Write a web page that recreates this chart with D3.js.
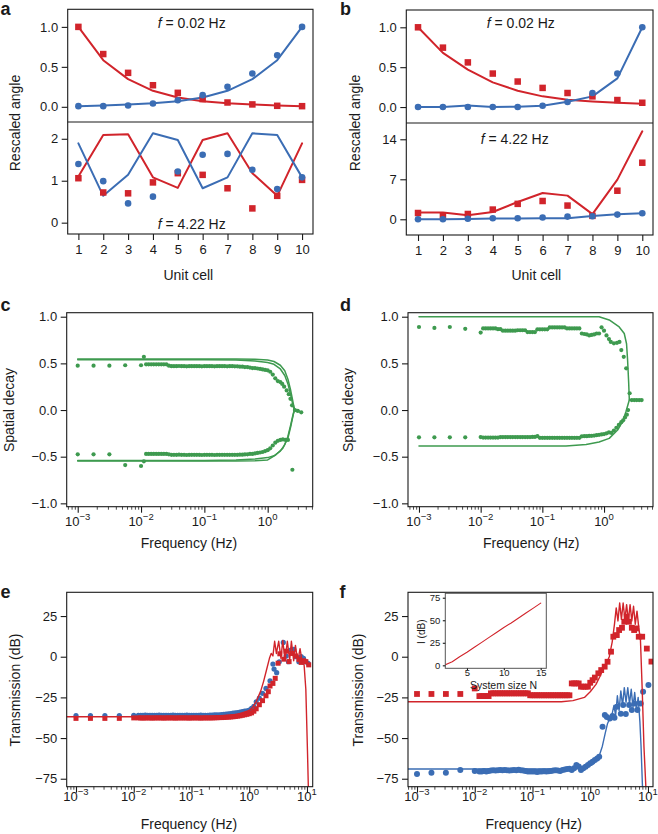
<!DOCTYPE html>
<html><head><meta charset="utf-8">
<script src="https://cdn.jsdelivr.net/npm/d3@7"></script>
<style>
body{margin:0;background:#fff}
text{font-family:"Liberation Sans",Arial,Helvetica,sans-serif;fill:#1a1a1a}
</style>
</head><body><svg id="fig" width="658" height="834"></svg>
<script>
// ---------------- DATA ----------------
const cells = [1,2,3,4,5,6,7,8,9,10];
// panel a, f = 0.02 Hz
const aLowRedPts  = [1.0,0.66,0.425,0.27,0.175,0.096,0.054,0.03,0.0125,0.008];
const aLowRedLine = [1.0,0.583,0.346,0.2,0.117,0.07,0.046,0.03,0.017,0.008];
const aLowBluePts = [0.008,0.008,0.017,0.042,0.083,0.146,0.25,0.417,0.646,1.0];
const aLowBlueLine= [0.008,0.017,0.03,0.046,0.07,0.117,0.2,0.346,0.583,1.0];
// panel a, f = 4.22 Hz
const aHiRedPts   = [1.06,0.72,0.70,0.96,1.18,1.14,0.82,0.34,0.64,1.02];
const aHiRedLine  = [1.10,2.09,2.11,1.08,0.83,1.97,2.13,1.18,0.64,1.89];
const aHiBluePts  = [1.40,0.99,0.46,0.62,1.22,1.62,1.64,1.26,0.80,1.08];
const aHiBlueLine = [1.89,0.64,1.14,2.13,1.97,0.82,1.08,2.13,2.09,1.08];
// panel b, f = 0.02 Hz
const bLowRedPts  = [1.0,0.745,0.56,0.42,0.32,0.24,0.176,0.134,0.088,0.054];
const bLowRedLine = [1.0,0.68,0.47,0.31,0.205,0.134,0.092,0.071,0.054,0.042];
const bLowBluePts = [0,0,0,0,0,0.017,0.063,0.176,0.42,1.0];
const bLowBlueLine= [0,0,0.02,0,0.004,0.017,0.067,0.134,0.36,1.0];
// panel b, f = 4.22 Hz
const bHiRedPts   = [1.1,0.7,0.93,1.7,2.7,3.2,2.4,0.6,5.0,9.9];
const bHiRedLine  = [1.17,1.17,0.7,1.28,3.03,4.6,4.14,0.9,6.94,15.4];
const bHiBluePts  = [0,0,0.1,0.18,0.18,0.3,0.47,0.53,0.82,1.05];
const bHiBlueLine = [0,0,0.06,0.12,0.12,0.18,0.18,0.58,0.88,1.05];

// measured frequencies (log10 Hz): sparse sweep + dense grid
const sweepLogF = [-3,-2.75,-2.5,-2.25,-2];
const gridLogF = [
 -1.92,-1.88,-1.84,-1.80,-1.76,-1.72,-1.68,-1.64,-1.60,-1.56,
 -1.52,-1.48,-1.44,-1.40,-1.36,-1.32,-1.28,-1.24,-1.20,-1.16,
 -1.12,-1.08,-1.04,-1.00,-0.96,-0.92,-0.88,-0.84,-0.80,-0.76,
 -0.72,-0.68,-0.64,-0.60,-0.56,-0.52,-0.48,-0.44,-0.40,-0.36,
 -0.32,-0.28,-0.24,-0.20,-0.16,-0.12,-0.08,-0.04,0.00,0.04,
 0.08];

// panel c (spatial decay)
const cUpSweep = [0.475,0.475,0.475,0.48,0.48];
const cUpGrid = [
 0.49,0.49,0.49,0.49,0.49,0.49,0.49,0.49,0.49,0.475,
 0.47,0.47,0.47,0.472,0.47,0.47,0.468,0.47,0.47,0.47,
 0.47,0.47,0.468,0.47,0.47,0.47,0.47,0.468,0.47,0.47,
 0.47,0.47,0.468,0.47,0.47,0.468,0.468,0.465,0.465,0.46,
 0.46,0.455,0.45,0.45,0.445,0.44,0.435,0.43,0.425,0.41,
 0.38];
const cUpTailLogF = [-1.955,0.12,0.16,0.2,0.23,0.26,0.3,0.333,0.36,0.385,0.43,0.475,0.53];
const cUpTail     = [0.57,0.34,0.31,0.3,0.28,0.25,0.21,0.17,0.12,0.05,0.0,-0.01,-0.025];
const cDnSweep = [-0.475,-0.475,-0.475,-0.59,-0.6];
const cDnGrid = [
 -0.47,-0.47,-0.47,-0.47,-0.47,-0.47,-0.47,-0.47,-0.47,-0.475,
 -0.48,-0.48,-0.48,-0.478,-0.48,-0.48,-0.482,-0.48,-0.48,-0.48,
 -0.48,-0.48,-0.482,-0.48,-0.48,-0.48,-0.48,-0.482,-0.48,-0.48,
 -0.48,-0.48,-0.48,-0.48,-0.48,-0.48,-0.48,-0.478,-0.478,-0.476,
 -0.475,-0.47,-0.47,-0.465,-0.46,-0.455,-0.45,-0.44,-0.43,-0.41,
 -0.38];
const cDnTailLogF = [-1.955,0.12,0.16,0.2,0.24,0.28,0.32,0.39];
const cDnTail     = [-0.55,-0.35,-0.33,-0.32,-0.315,-0.32,-0.32,-0.64];
const cUpLine1LogF = [-3,-0.5,-0.2,0,0.1,0.2,0.27,0.32,0.36,0.39,0.41,0.43,0.5];
const cUpLine1     = [0.546,0.546,0.544,0.535,0.52,0.48,0.42,0.33,0.22,0.12,0.05,0.0,-0.01];
const cUpLine2LogF = [-3,-1,-0.5,-0.2,0,0.1,0.2,0.27,0.32,0.36,0.39,0.42];
const cUpLine2     = [0.54,0.54,0.535,0.525,0.51,0.49,0.44,0.37,0.28,0.17,0.08,0.0];
const cDnLine1LogF = [-3,-0.5,-0.2,0,0.13,0.24,0.32,0.37,0.41,0.43];
const cDnLine1     = [-0.546,-0.546,-0.544,-0.535,-0.48,-0.41,-0.30,-0.16,-0.03,0.0];
const cDnLine2LogF = [-3,-1,-0.5,-0.2,0,0.1,0.2,0.27,0.32,0.36,0.39,0.42];
const cDnLine2     = [-0.54,-0.54,-0.535,-0.525,-0.51,-0.49,-0.44,-0.37,-0.28,-0.17,-0.08,0.0];

// panel d (spatial decay)
const dUpSweep = [0.89,0.88,0.89,0.87,0.83];
const dUpGrid = [
 0.875,0.875,0.875,0.875,0.875,0.866,0.866,0.85,0.85,0.85,
 0.85,0.85,0.85,0.855,0.855,0.855,0.855,0.835,0.835,0.835,
 0.835,0.865,0.865,0.865,0.865,0.865,0.885,0.885,0.885,0.885,
 0.885,0.885,0.885,0.875,0.875,0.875,0.875,0.875,0.875,0.82,
 0.815,0.81,0.80,0.805,0.81,0.82,0.82,0.886,0.85,0.80,
 0.76];
const dUpTailLogF = [-1.96,0.11,0.16,0.21,0.25,0.28,0.32,0.36,0.415,0.45,0.49,0.53,0.57,0.61];
const dUpTail     = [0.875,0.73,0.715,0.72,0.73,0.643,0.57,0.447,0.18,0.107,0.107,0.107,0.107,0.107];
const dDnSweep = [-0.293,-0.293,-0.293,-0.293,-0.29];
const dDnGrid = [
 -0.295,-0.295,-0.295,-0.295,-0.295,-0.295,-0.29,-0.29,-0.29,-0.29,
 -0.29,-0.29,-0.29,-0.29,-0.29,-0.29,-0.29,-0.29,-0.29,-0.288,
 -0.288,-0.28,-0.298,-0.298,-0.298,-0.298,-0.298,-0.298,-0.298,-0.298,
 -0.298,-0.298,-0.298,-0.298,-0.298,-0.298,-0.298,-0.298,-0.298,-0.282,
 -0.28,-0.28,-0.278,-0.276,-0.274,-0.27,-0.266,-0.262,-0.258,-0.25,
 -0.24];
const dDnTailLogF = [-1.96,0.12,0.16,0.2,0.24,0.28,0.31,0.34,0.37,0.39];
const dDnTail     = [-0.295,-0.245,-0.22,-0.19,-0.16,-0.13,-0.11,-0.08,-0.05,0.0];
const dUpLineLogF = [-3,-0.08,0.084,0.246,0.328,0.365,0.382,0.40,0.41];
const dUpLine     = [1.0,1.0,0.965,0.89,0.82,0.71,0.536,0.286,0.107];
const dDnLineLogF = [-3,-0.617,-0.29,-0.08,0.084,0.22,0.30,0.355,0.41];
const dDnLine     = [-0.386,-0.386,-0.37,-0.343,-0.304,-0.214,-0.125,-0.018,0.107];

// panel e (transmission, dB)
const eBlueSweep = [-36.2,-36.2,-36.2,-36.2,-36.0];
const eBlueGrid = [
 -36.0,-36.1,-36.0,-35.9,-36.0,-36.0,-36.1,-36.0,-36.0,-35.9,
 -36.0,-36.0,-36.1,-36.0,-36.0,-35.9,-36.0,-36.0,-36.1,-36.0,
 -36.0,-35.9,-36.0,-36.0,-36.0,-36.1,-36.0,-35.9,-36.0,-36.0,
 -36.0,-35.9,-35.9,-35.8,-35.8,-35.7,-35.6,-35.5,-35.3,-35.1,
 -34.9,-34.7,-34.5,-34.3,-34.0,-33.8,-33.5,-33.2,-32.8,-31.8,
 -30.5];
const eBlueTailLogF = [0.12,0.175,0.23,0.29,0.36,0.41,0.43,0.475,0.52,0.59,0.64,0.68,0.72,0.77,0.81,0.86,0.9,0.94,0.98,1.02];
const eBlueTail     = [-27.7,-25.5,-22.5,-19.5,-14.8,-4.5,-7.6,-9.8,-3.1,8.8,0.4,-3.1,4.1,4.5,0,-3.1,0,-1,-3.1,-4];
const eRedSweep = [-37.9,-37.9,-37.9,-37.9,-37.6];
const eRedGrid = [
 -37.6,-37.6,-37.7,-37.6,-37.6,-37.6,-37.7,-37.6,-37.6,-37.6,
 -37.6,-37.7,-37.6,-37.6,-37.6,-37.6,-37.7,-37.6,-37.6,-37.6,
 -37.6,-37.6,-37.7,-37.6,-37.6,-37.6,-37.6,-37.7,-37.6,-37.6,
 -37.6,-37.6,-37.6,-37.5,-37.5,-37.4,-37.4,-37.3,-37.2,-37.1,
 -37.0,-36.9,-36.7,-36.5,-36.3,-36.0,-35.7,-35.4,-35.0,-34.5,
 -33.5];
const eRedTailLogF = [0.12,0.175,0.23,0.29,0.33,0.36,0.41,0.45,0.5,0.53,0.6,0.64,0.69,0.74,0.8,0.86,0.9,0.94,0.98,1.03];
const eRedTail     = [-32,-29.5,-27,-24,-21.5,-18,-16.4,-13.3,-4,1.8,-1.5,3.4,-3,2,0.5,-1.5,-3.5,-2.5,-3,-5];
const eRedLineLogF = [-3.16,-0.6,-0.4,-0.2,0,0.06,0.12,0.2,0.25,0.3,0.35,0.38,0.41,0.44,0.47,0.51,0.55,0.58,0.62,0.66,0.7,0.73,0.77,0.8,0.84,0.88,0.92,0.95,0.98,1.01,1.03];
const eRedLine     = [-36.9,-36.9,-36.5,-35.5,-33,-31,-27.6,-21,-15,-8,-1,2,0.5,9.5,2,9.5,-1,10,-2,9.5,-2,9.5,-2.5,7,-3,5,-4,-5,-20,-60,-90];

// panel f (transmission, dB)
const fRedSweep = [-22.9,-22.9,-22.9,-22.9,-19.5];
const fRedGrid = [
 -24.2,-24.2,-24.2,-24.2,-24.2,-22.5,-22.5,-22.5,-22.5,-22.5,
 -22.5,-22.5,-22.5,-22.5,-22.5,-22.5,-22.5,-22.5,-22.5,-22.5,
 -22.5,-22.5,-23.7,-23.7,-23.7,-23.7,-23.7,-23.7,-23.7,-23.7,
 -23.7,-23.7,-23.7,-23.7,-23.7,-23.7,-23.7,-23.7,-23.7,-23.7,
 -16.4,-16.4,-16.4,-16.4,-18.4,-18.4,-18.4,-18.4,-16,-14.4,
 -12.8];
const fRedTailLogF = [0.14,0.19,0.25,0.3,0.36,0.4,0.46,0.5,0.55,0.59,0.63,0.67,0.72,0.76,0.8,0.84,0.9,0.98,1.06];
const fRedTail     = [-10.2,-8.2,-6.1,-3.1,3.1,12.3,13.3,16.4,17.8,21.5,24.6,21.5,17.8,16.4,17.4,12.3,12.3,5,-3];
const fRedLineLogF = [-3.16,-0.5,-0.3,-0.1,0,0.1,0.17,0.22,0.28,0.33,0.38,0.42,0.45,0.48,0.51,0.54,0.57,0.6,0.63,0.66,0.69,0.72,0.75,0.78,0.81,0.84,0.87,0.9,0.93,0.97,1.0];
const fRedLine     = [-27.7,-27.7,-27,-25,-21.5,-17,-12,-8,-4,0,9,20,30,22,33,23,33,23,32,22,32,22,31,20,28,18,10,-20,-55,-85,-100];
const fBlueSweep = [-72.1,-71.3,-71.3,-69.7,-70.3];
const fBlueGrid = [
 -70.5,-70.5,-70.3,-70.5,-70.3,-70.0,-69.8,-70.0,-69.8,-69.6,
 -69.8,-69.6,-69.8,-70.0,-69.8,-69.6,-69.8,-69.5,-69.8,-70.0,
 -70.2,-70.5,-70.6,-70.5,-70.6,-70.8,-70.5,-70.6,-70.4,-70.6,
 -70.4,-70.2,-70.0,-69.8,-70.0,-70.2,-69.6,-69.3,-69.0,-68.8,
 -69.6,-68.5,-66.6,-67.5,-69.6,-68.5,-67.6,-66.5,-65.5,-64.5,
 -63.5];
const fBlueTailLogF = [0.12,0.155,0.213,0.253,0.287,0.339,0.386,0.42,0.46,0.53,0.57,0.616,0.674,0.72,0.766,0.818,0.875,0.915,1.008];
const fBlueTail     = [-62.5,-61.5,-43,-35.8,-37,-37.9,-36.5,-37.5,-30.7,-35,-29.7,-35.2,-29.7,-32.8,-28.7,-32.8,-28.7,-21.5,-17.4];
const fBlueLineLogF = [-3.16,-0.3,-0.1,0.05,0.15,0.21,0.26,0.3,0.35,0.38,0.41,0.44,0.47,0.5,0.53,0.56,0.59,0.62,0.65,0.68,0.71,0.74,0.77,0.8,0.83,0.86,0.88,0.91,0.95];
const fBlueLine     = [-69,-69,-68.5,-66,-61.5,-55,-47,-41,-37,-35,-30,-36,-24,-33,-21,-30,-19,-28,-19,-29,-20,-31,-22,-33,-25,-40,-55,-85,-110];

// inset of f
const insetN = [2,3,4,5,6,7,8,9,10,11,12,13,14,15];
const insetI = [0.5,4,9.5,14.5,20,25.5,31,36.5,42,47,52.5,58,63.5,69];

// tick values
const angleTicksLow = [0,0.5,1];
const aTicksHigh = [0,1,2];
const bTicksHigh = [0,7,14];
const decayTicks = [-1,-0.5,0,0.5,1];
const dbTicks = [-75,-50,-25,0,25];
const insetYTicks = [0,25,50,75];
const insetXTicks = [5,10,15];

// ---------------- DRAWING ----------------
const svg = d3.select('#fig');
const RED = '#d1242b', BLUE = '#3b6db4', GREEN = '#3e9a4f', INK = '#1a1a1a';
const L = v => Math.pow(10, v);
let clipId = 0;

function frame(x0, x1, y0, y1) {
  svg.append('rect').attr('x', x0).attr('y', y0).attr('width', x1 - x0).attr('height', y1 - y0)
    .attr('fill', 'none').attr('stroke', INK).attr('stroke-width', 1.1);
}
function clipGroup(x0, x1, y0, y1) {
  const id = 'clip' + (clipId++);
  svg.append('clipPath').attr('id', id).append('rect')
    .attr('x', x0).attr('y', y0).attr('width', x1 - x0).attr('height', y1 - y0);
  return svg.append('g').attr('clip-path', `url(#${id})`);
}
function styleAxis(g, fs) {
  g.select('.domain').remove();
  g.attr('font-family', null).attr('font-size', null);
  g.selectAll('line').attr('stroke', INK).attr('stroke-width', 1.1);
  g.selectAll('text').attr('font-size', fs).style('fill', INK);
}
function yAxis(y, x0, ticks, fmt, fs = 13, size = 6, pad = 3.5) {
  const g = svg.append('g').attr('transform', `translate(${x0},0)`)
    .call(d3.axisLeft(y).tickValues(ticks).tickFormat(fmt).tickSize(size).tickPadding(pad));
  styleAxis(g, fs);
  return g;
}
function xAxisLinear(x, y0, ticks, fs = 13, size = 6, pad = 4.5) {
  const g = svg.append('g').attr('transform', `translate(0,${y0})`)
    .call(d3.axisBottom(x).tickValues(ticks).tickSize(size).tickPadding(pad));
  styleAxis(g, fs);
  return g;
}
function xAxisLog(x, y0, exps, baseline) {
  const major = exps.map(L);
  const minor = x.ticks().filter(t => !major.some(m => Math.abs(m - t) / m < 1e-9));
  const gm = svg.append('g').attr('transform', `translate(0,${y0})`)
    .call(d3.axisBottom(x).tickValues(minor).tickSize(3).tickFormat(''));
  styleAxis(gm, 13);
  gm.selectAll('line').attr('stroke-width', 0.8);
  const g = svg.append('g').attr('transform', `translate(0,${y0})`)
    .call(d3.axisBottom(x).tickValues(major).tickSize(6).tickFormat(''));
  styleAxis(g, 13);
  exps.forEach(e => {
    const t = svg.append('text').attr('x', x(L(e))).attr('y', baseline)
      .attr('text-anchor', 'middle').attr('font-size', 13);
    t.append('tspan').text('10');
    t.append('tspan').attr('dy', -6).attr('font-size', 9.5).text(d3.format('')(e));
  });
}
function line(g, xs, ys, x, y, color, w) {
  g.append('path').datum(d3.zip(xs, ys))
    .attr('d', d3.line().x(d => x(d[0])).y(d => y(d[1])))
    .attr('fill', 'none').attr('stroke', color).attr('stroke-width', w)
    .attr('stroke-linejoin', 'round').attr('stroke-linecap', 'round');
}
function dots(g, xs, ys, x, y, color, r) {
  g.append('g').selectAll('circle').data(d3.zip(xs, ys)).join('circle')
    .attr('cx', d => x(d[0])).attr('cy', d => y(d[1])).attr('r', r).attr('fill', color);
}
function squares(g, xs, ys, x, y, color, s) {
  g.append('g').selectAll('rect').data(d3.zip(xs, ys)).join('rect')
    .attr('x', d => x(d[0]) - s / 2).attr('y', d => y(d[1]) - s / 2)
    .attr('width', s).attr('height', s).attr('fill', color);
}
function label(txt, x, y, opts = {}) {
  const t = svg.append('text').attr('x', x).attr('y', y)
    .attr('font-size', opts.fs || 14).attr('text-anchor', opts.anchor || 'middle');
  if (opts.bold) t.attr('font-weight', 'bold');
  if (opts.rot) t.attr('transform', `rotate(-90,${x},${y})`).attr('dy', '0.35em');
  t.text(txt);
  return t;
}
function freqLabel(x, y, val) {
  const t = svg.append('text').attr('x', x).attr('y', y).attr('font-size', 14).attr('text-anchor', 'middle');
  t.append('tspan').attr('font-style', 'italic').text('f');
  t.append('tspan').text(' = ' + val + ' Hz');
}
const f1 = d3.format('.1f');
const LETTER = 18;

// ---- panel a ----
{
  const X0 = 67.7, X1 = 313, YT = 9.3, YM = 122, YB = 234;
  const x = d3.scaleLinear().domain([0.57, 10.44]).range([X0, X1]);
  const yT = d3.scaleLinear().domain([-0.19, 1.22]).range([YM, YT]);
  const yB = d3.scaleLinear().domain([-0.27, 2.4]).range([YB, YM]);
  const gT = clipGroup(X0, X1, YT, YM), gB = clipGroup(X0, X1, YM, YB);
  line(gT, cells, aLowRedLine, x, yT, RED, 2);
  line(gT, cells, aLowBlueLine, x, yT, BLUE, 2);
  squares(gT, cells, aLowRedPts, x, yT, RED, 6.5);
  dots(gT, cells, aLowBluePts, x, yT, BLUE, 3.3);
  line(gB, cells, aHiRedLine, x, yB, RED, 2);
  line(gB, cells, aHiBlueLine, x, yB, BLUE, 2);
  squares(gB, cells, aHiRedPts, x, yB, RED, 6.5);
  dots(gB, cells, aHiBluePts, x, yB, BLUE, 3.3);
  frame(X0, X1, YT, YB);
  svg.append('line').attr('x1', X0).attr('x2', X1).attr('y1', YM).attr('y2', YM).attr('stroke', INK).attr('stroke-width', 1.1);
  yAxis(yT, X0, angleTicksLow, f1);
  yAxis(yB, X0, aTicksHigh, d3.format('d'));
  xAxisLinear(x, YB, cells);
  freqLabel(191.7, 28.3, '0.02');
  freqLabel(191.7, 229.3, '4.22');
  label('Unit cell', 188.3, 280);
  label('Rescaled angle', 15, 123, {rot: true});
  label('a', 0.5, 15, {bold: true, fs: LETTER, anchor: 'start'});
}
// ---- panel b ----
{
  const X0 = 406.3, X1 = 653, YT = 10, YM = 123, YB = 235;
  const x = d3.scaleLinear().domain([0.53, 10.43]).range([X0, X1]);
  const yT = d3.scaleLinear().domain([-0.2, 1.217]).range([YM, YT]);
  const yB = d3.scaleLinear().domain([-2.75, 16.85]).range([YB, YM]);
  const gT = clipGroup(X0, X1, YT, YM), gB = clipGroup(X0, X1, YM, YB);
  line(gT, cells, bLowRedLine, x, yT, RED, 2);
  line(gT, cells, bLowBlueLine, x, yT, BLUE, 2);
  squares(gT, cells, bLowRedPts, x, yT, RED, 6.5);
  dots(gT, cells, bLowBluePts, x, yT, BLUE, 3.3);
  line(gB, cells, bHiRedLine, x, yB, RED, 2);
  line(gB, cells, bHiBlueLine, x, yB, BLUE, 2);
  squares(gB, cells, bHiRedPts, x, yB, RED, 6.5);
  dots(gB, cells, bHiBluePts, x, yB, BLUE, 3.3);
  frame(X0, X1, YT, YB);
  svg.append('line').attr('x1', X0).attr('x2', X1).attr('y1', YM).attr('y2', YM).attr('stroke', INK).attr('stroke-width', 1.1);
  yAxis(yT, X0, angleTicksLow, f1);
  yAxis(yB, X0, bTicksHigh, d3.format('d'));
  xAxisLinear(x, YB, cells);
  freqLabel(520.8, 28.3, '0.02');
  freqLabel(514.7, 144, '4.22');
  label('Unit cell', 536.3, 280);
  label('Rescaled angle', 355.5, 123, {rot: true});
  label('b', 340, 15, {bold: true, fs: LETTER, anchor: 'start'});
}
// ---- panel c ----
{
  const X0 = 66.7, X1 = 312.7, Y0 = 312.7, Y1 = 506.7;
  const x = d3.scaleLog().domain([L(-3.174), L(0.711)]).range([X0, X1]);
  const y = d3.scaleLinear().domain([-1.036, 1.043]).range([Y1, Y0]);
  const g = clipGroup(X0, X1, Y0, Y1);
  const F = a => a.map(L);
  line(g, F(cUpLine1LogF), cUpLine1, x, y, GREEN, 1.5);
  line(g, F(cUpLine2LogF), cUpLine2, x, y, GREEN, 1.5);
  line(g, F(cDnLine1LogF), cDnLine1, x, y, GREEN, 1.5);
  line(g, F(cDnLine2LogF), cDnLine2, x, y, GREEN, 1.5);
  dots(g, F(sweepLogF.concat(gridLogF, cUpTailLogF)), cUpSweep.concat(cUpGrid, cUpTail), x, y, GREEN, 2.1);
  dots(g, F(sweepLogF.concat(gridLogF, cDnTailLogF)), cDnSweep.concat(cDnGrid, cDnTail), x, y, GREEN, 2.1);
  frame(X0, X1, Y0, Y1);
  yAxis(y, X0, decayTicks, f1);
  xAxisLog(x, Y1, [-3, -2, -1, 0], 525.7);
  label('Frequency (Hz)', 189, 548);
  label('Spatial decay', 9, 410, {rot: true});
  label('c', 0.5, 311, {bold: true, fs: LETTER, anchor: 'start'});
}
// ---- panel d ----
{
  const X0 = 408, X1 = 653, Y0 = 312.7, Y1 = 506.7;
  const x = d3.scaleLog().domain([L(-3.178), L(0.794)]).range([X0, X1]);
  const y = d3.scaleLinear().domain([-1.036, 1.043]).range([Y1, Y0]);
  const g = clipGroup(X0, X1, Y0, Y1);
  const F = a => a.map(L);
  line(g, F(dUpLineLogF), dUpLine, x, y, GREEN, 1.5);
  line(g, F(dDnLineLogF), dDnLine, x, y, GREEN, 1.5);
  dots(g, F(sweepLogF.concat(gridLogF, dUpTailLogF)), dUpSweep.concat(dUpGrid, dUpTail), x, y, GREEN, 2.1);
  dots(g, F(sweepLogF.concat(gridLogF, dDnTailLogF)), dDnSweep.concat(dDnGrid, dDnTail), x, y, GREEN, 2.1);
  frame(X0, X1, Y0, Y1);
  yAxis(y, X0, decayTicks, f1);
  xAxisLog(x, Y1, [-3, -2, -1, 0], 525.7);
  label('Frequency (Hz)', 531.3, 548);
  label('Spatial decay', 348, 410, {rot: true});
  label('d', 340, 311, {bold: true, fs: LETTER, anchor: 'start'});
}
// ---- panel e ----
{
  const X0 = 66.7, X1 = 312.7, Y0 = 592.3, Y1 = 786.7;
  const x = d3.scaleLog().domain([L(-3.161), L(1.099)]).range([X0, X1]);
  const y = d3.scaleLinear().domain([-79.9, 39.6]).range([Y1, Y0]);
  const g = clipGroup(X0, X1, Y0, Y1);
  const F = a => a.map(L);
  dots(g, F(sweepLogF.concat(gridLogF, eBlueTailLogF)), eBlueSweep.concat(eBlueGrid, eBlueTail), x, y, BLUE, 2.6);
  squares(g, F(sweepLogF.concat(gridLogF, eRedTailLogF)), eRedSweep.concat(eRedGrid, eRedTail), x, y, RED, 5);
  line(g, F(eRedLineLogF), eRedLine, x, y, RED, 1.4);
  frame(X0, X1, Y0, Y1);
  yAxis(y, X0, dbTicks, d3.format('d'));
  xAxisLog(x, Y1, [-3, -2, -1, 0, 1], 800.7);
  label('Frequency (Hz)', 189, 829.3);
  label('Transmission (dB)', 15, 690, {rot: true});
  label('e', 0.5, 598, {bold: true, fs: LETTER, anchor: 'start'});
}
// ---- panel f ----
{
  const X0 = 408, X1 = 653, Y0 = 592.3, Y1 = 786.7;
  const x = d3.scaleLog().domain([L(-3.156), L(1.087)]).range([X0, X1]);
  const y = d3.scaleLinear().domain([-79.9, 39.6]).range([Y1, Y0]);
  const g = clipGroup(X0, X1, Y0, Y1);
  const F = a => a.map(L);
  squares(g, F(sweepLogF.concat(gridLogF, fRedTailLogF)), fRedSweep.concat(fRedGrid, fRedTail), x, y, RED, 5.8);
  dots(g, F(sweepLogF.concat(gridLogF, fBlueTailLogF)), fBlueSweep.concat(fBlueGrid, fBlueTail), x, y, BLUE, 3);
  line(g, F(fRedLineLogF), fRedLine, x, y, RED, 1.4);
  line(g, F(fBlueLineLogF), fBlueLine, x, y, BLUE, 1.4);
  frame(X0, X1, Y0, Y1);
  yAxis(y, X0, dbTicks, d3.format('d'));
  xAxisLog(x, Y1, [-3, -2, -1, 0, 1], 800.7);
  label('Frequency (Hz)', 533.8, 829.3);
  label('Transmission (dB)', 358, 690, {rot: true});
  label('f', 339.5, 598, {bold: true, fs: LETTER, anchor: 'start'});

  // inset
  const IX0 = 445.3, IX1 = 546.3, IY0 = 593.3, IY1 = 668.3;
  svg.append('rect').attr('x', IX0).attr('y', IY0).attr('width', IX1 - IX0).attr('height', IY1 - IY0).attr('fill', '#fff');
  const ix = d3.scaleLinear().domain([2.06, 15.76]).range([IX0, IX1]);
  const iy = d3.scaleLinear().domain([-3.3, 79.9]).range([IY1, IY0]);
  const gi = clipGroup(IX0, IX1, IY0, IY1);
  line(gi, insetN, insetI, ix, iy, RED, 1.1);
  svg.append('rect').attr('x', IX0).attr('y', IY0).attr('width', IX1 - IX0).attr('height', IY1 - IY0)
    .attr('fill', 'none').attr('stroke', '#555').attr('stroke-width', 1);
  yAxis(iy, IX0, insetYTicks, d3.format('d'), 9.5, 2.5, 2.5);
  xAxisLinear(ix, IY1, insetXTicks, 9.5, 2, -1.2);
  label('I (dB)', 421.5, 631.7, {rot: true, fs: 10});
  label('System size N', 503.5, 688.5, {fs: 10.5});
}
</script>
</body></html>
